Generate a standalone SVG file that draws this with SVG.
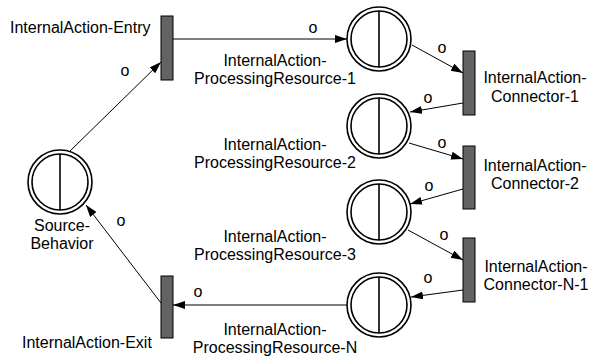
<svg xmlns="http://www.w3.org/2000/svg" width="589" height="362" viewBox="0 0 589 362">
  <defs>
    <marker id="arrow" markerUnits="userSpaceOnUse" markerWidth="13" markerHeight="9" refX="12" refY="4" orient="auto">
      <path d="M0,0 L12,4 L0,8 z" fill="#000"/>
    </marker>
    <style>
      text { font-family: "Liberation Sans", Arial, sans-serif; font-size: 16px; fill: #000; }
      .mid { text-anchor: middle; }
      .bar { fill: #636363; stroke: #000; stroke-width: 1; }
      .ring { fill: #fff; stroke: #000; stroke-width: 1.6; }
      .split { stroke: #000; stroke-width: 1.6; }
      .edge { fill: none; stroke: #000; stroke-width: 1; marker-end: url(#arrow); }
    </style>
  </defs>
  <rect width="589" height="362" fill="#fff"/>

  <!-- connectors -->
  <g id="connectors">
    <path class="edge" d="M69,152 L161,62"/>
    <path class="edge" d="M173,39 L347,39"/>
    <path class="edge" d="M412,45 L463,73"/>
    <path class="edge" d="M463,103 L410,112"/>
    <path class="edge" d="M409,143 L463,159"/>
    <path class="edge" d="M463,189 L410,204"/>
    <path class="edge" d="M408,230 L463,260"/>
    <path class="edge" d="M463,290 L411,297"/>
    <path class="edge" d="M347,305 L173,305"/>
    <path class="edge" d="M161,303 L86,205"/>
    <text class="mid" x="125" y="76">o</text>
    <text class="mid" x="313" y="33">o</text>
    <text class="mid" x="442" y="53">o</text>
    <text class="mid" x="428" y="103">o</text>
    <text class="mid" x="442" y="148">o</text>
    <text class="mid" x="429" y="191">o</text>
    <text class="mid" x="444" y="240">o</text>
    <text class="mid" x="428" y="283">o</text>
    <text class="mid" x="198" y="297">o</text>
    <text class="mid" x="121" y="226">o</text>
  </g>

  <!-- places -->
  <g id="source-behavior">
    <circle class="ring" cx="60" cy="182" r="32"/>
    <circle class="ring" cx="60" cy="182" r="28"/>
    <line class="split" x1="60" y1="154" x2="60" y2="210"/>
    <text class="mid" x="62" y="231">Source-</text>
    <text class="mid" x="62" y="249">Behavior</text>
  </g>
  <g id="processing-resource-1">
    <circle class="ring" cx="379" cy="39" r="32"/>
    <circle class="ring" cx="379" cy="39" r="28"/>
    <line class="split" x1="379" y1="11" x2="379" y2="67"/>
    <text class="mid" x="275" y="66">InternalAction-</text>
    <text class="mid" x="275" y="84">ProcessingResource-1</text>
  </g>
  <g id="processing-resource-2">
    <circle class="ring" cx="379" cy="126" r="32"/>
    <circle class="ring" cx="379" cy="126" r="28"/>
    <line class="split" x1="379" y1="98" x2="379" y2="154"/>
    <text class="mid" x="275" y="150">InternalAction-</text>
    <text class="mid" x="275" y="168">ProcessingResource-2</text>
  </g>
  <g id="processing-resource-3">
    <circle class="ring" cx="379" cy="212" r="32"/>
    <circle class="ring" cx="379" cy="212" r="28"/>
    <line class="split" x1="379" y1="184" x2="379" y2="240"/>
    <text class="mid" x="275" y="242">InternalAction-</text>
    <text class="mid" x="275" y="260">ProcessingResource-3</text>
  </g>
  <g id="processing-resource-n">
    <circle class="ring" cx="379" cy="305" r="32"/>
    <circle class="ring" cx="379" cy="305" r="28"/>
    <line class="split" x1="379" y1="277" x2="379" y2="333"/>
    <text class="mid" x="275" y="335">InternalAction-</text>
    <text class="mid" x="275" y="353">ProcessingResource-N</text>
  </g>

  <!-- transitions -->
  <g id="entry">
    <rect class="bar" x="161" y="16" width="12" height="64"/>
    <text x="10" y="33">InternalAction-Entry</text>
  </g>
  <g id="exit">
    <rect class="bar" x="161" y="276" width="12" height="62"/>
    <text x="22" y="348">InternalAction-Exit</text>
  </g>
  <g id="connector-1">
    <rect class="bar" x="463" y="51" width="12" height="64"/>
    <text class="mid" x="535" y="83">InternalAction-</text>
    <text class="mid" x="535" y="102">Connector-1</text>
  </g>
  <g id="connector-2">
    <rect class="bar" x="463" y="146" width="12" height="63"/>
    <text class="mid" x="535" y="171">InternalAction-</text>
    <text class="mid" x="535" y="189">Connector-2</text>
  </g>
  <g id="connector-n-1">
    <rect class="bar" x="463" y="238" width="12" height="64"/>
    <text class="mid" x="536" y="272">InternalAction-</text>
    <text class="mid" x="536" y="290">Connector-N-1</text>
  </g>
</svg>
